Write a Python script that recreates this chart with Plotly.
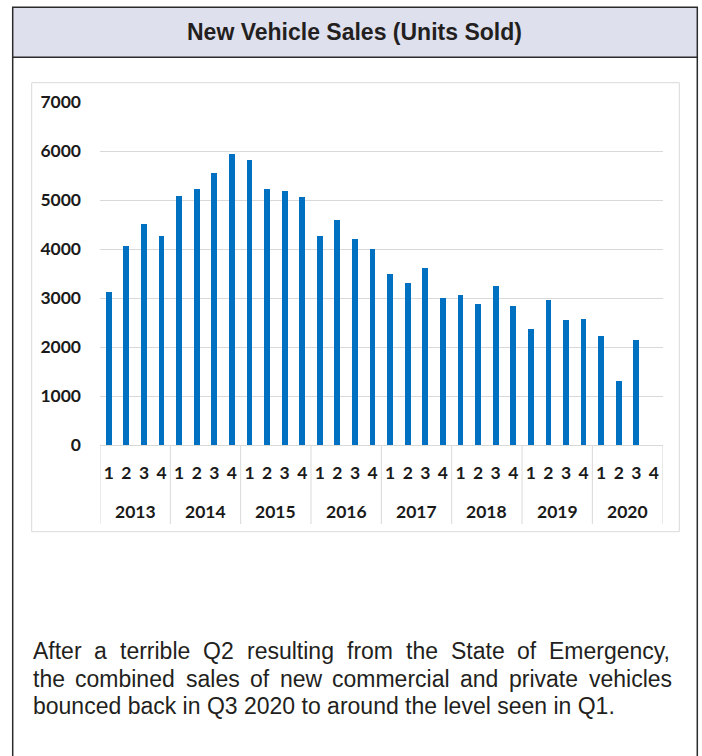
import plotly.graph_objects as go

# ---------------- data ----------------
years = ["2013", "2014", "2015", "2016", "2017", "2018", "2019", "2020"]
quarters = ["1", "2", "3", "4"]
sales = [3117, 4061, 4517, 4272,
         5090, 5213, 5540, 5935,
         5820, 5213, 5178, 5063,
         4272, 4599, 4211, 4000,
         3481, 3301, 3611, 2994,
         3055, 2877, 3239, 2843,
         2360, 2965, 2540, 2566,
         2215, 1297, 2132, None]
y_ticks = [0, 1000, 2000, 3000, 4000, 5000, 6000, 7000]
title_text = "New Vehicle Sales (Units Sold)"
body_lines = [
    "After a terrible Q2 resulting from the State of Emergency,",
    "the combined sales of new commercial and private vehicles",
    "bounced back in Q3 2020 to around the level seen in Q1.",
]

# ---------------- layout helpers ----------------
W, H = 702, 756


def px(x):
    return x / W


def py(y):
    return 1 - y / H


HELV = {' ': 278, ',': 278, '.': 278, 'A': 667, 'E': 667, 'Q': 778, 'S': 667,
        'a': 556, 'b': 556, 'c': 500, 'd': 556, 'e': 556, 'f': 278, 'g': 556,
        'h': 556, 'i': 222, 'j': 222, 'k': 500, 'l': 222, 'm': 833, 'n': 556,
        'o': 556, 'p': 556, 'q': 556, 'r': 333, 's': 500, 't': 278, 'u': 556,
        'v': 500, 'w': 722, 'x': 500, 'y': 500, 'z': 500}


def text_w(s, size):
    return sum(HELV.get(c, 556) for c in s) * size / 1000.0


cats = [f"{y}-Q{q}" for y in years for q in quarters]
qlabels = [q for y in years for q in quarters]

CHART_FONT = "Lato"
BODY_FONT = "Liberation Sans"
LBL = dict(family=CHART_FONT, size=17.5, color="#1a1a1a", weight="bold")

fig = go.Figure(go.Bar(
    x=cats, y=sales, marker_color="#0070c0", marker_line_width=0,
    width=0.33, hoverinfo="x+y", showlegend=False,
))

plot_l, plot_r, plot_t, plot_b = 100, 662.7, 102.3, 445

fig.update_layout(
    width=W, height=H,
    margin=dict(l=0, r=0, t=0, b=0),
    paper_bgcolor="white", plot_bgcolor="white",
    bargap=0,
    xaxis=dict(
        type="category", domain=[px(plot_l), px(plot_r)],
        range=[-0.5, len(cats) - 0.5],
        tickmode="array", tickvals=cats, ticktext=qlabels,
        tickfont=LBL,
        ticks="", ticklabelstandoff=12,
        showgrid=False, showline=True, linecolor="#d9d9d9", linewidth=1,
        zeroline=False, automargin=False, fixedrange=True,
    ),
    yaxis=dict(
        domain=[py(plot_b), py(plot_t)], range=[0, 7000],
        tickmode="array", tickvals=y_ticks,
        tickfont=LBL,
        ticks="", ticklabelstandoff=18,
        showgrid=True, gridcolor="#d9d9d9", gridwidth=1,
        zeroline=False, showline=False, automargin=False, fixedrange=True,
    ),
)

shapes = []
annotations = []

# outer panel lines
shapes.append(dict(type="rect", xref="paper", yref="paper",
                   x0=px(12.7), x1=px(697.3), y0=py(57.3), y1=py(7.3),
                   fillcolor="#dfe0ee", line=dict(color="#2b2b2b", width=1.5), layer="below"))
shapes.append(dict(type="line", xref="paper", yref="paper",
                   x0=px(12.7), x1=px(12.7), y0=py(57.3), y1=py(760),
                   line=dict(color="#2b2b2b", width=1.5)))
shapes.append(dict(type="line", xref="paper", yref="paper",
                   x0=px(697.3), x1=px(697.3), y0=py(57.3), y1=py(760),
                   line=dict(color="#2b2b2b", width=1.5)))
# inner chart frame
shapes.append(dict(type="rect", xref="paper", yref="paper",
                   x0=px(31.7), x1=px(679.3), y0=py(531.7), y1=py(82.7),
                   line=dict(color="#d9d9d9", width=1), layer="below"))
# year dividers
for i in range(len(years) + 1):
    shapes.append(dict(type="line", xref="x", yref="paper",
                       x0=i * 4 - 0.5, x1=i * 4 - 0.5, y0=py(445), y1=py(524),
                       line=dict(color="#d9d9d9", width=1)))
# year labels
for i, yr in enumerate(years):
    annotations.append(dict(x=i * 4 + 1.5, xref="x", y=py(511.7), yref="paper",
                            text=yr, showarrow=False, xanchor="center", yanchor="middle",
                            font=LBL))

# title
annotations.append(dict(x=px(354), y=py(32.3), xref="paper", yref="paper",
                        text=title_text, showarrow=False, xanchor="center", yanchor="middle",
                        font=dict(family=BODY_FONT, size=23, color="#231f20", weight="bold")))

# body text (first two lines justified)
BODY_SIZE = 23
left, right = 31.7, 671.0
mids = [651.0, 678.5, 706.0]
for li, line in enumerate(body_lines):
    if li < len(body_lines) - 1:
        words = line.split(" ")
        widths = [text_w(w, BODY_SIZE) for w in words]
        gap = (right - left - sum(widths)) / (len(words) - 1)
        x = left
        for w, ww in zip(words, widths):
            annotations.append(dict(x=px(x), y=py(mids[li]), xref="paper", yref="paper",
                                    text=w, showarrow=False, xanchor="left", yanchor="middle",
                                    borderpad=0,
                                    font=dict(family=BODY_FONT, size=BODY_SIZE, color="#231f20")))
            x += ww + gap
    else:
        annotations.append(dict(x=px(left), y=py(mids[li]), xref="paper", yref="paper",
                                text=line, showarrow=False, xanchor="left", yanchor="middle",
                                borderpad=0,
                                font=dict(family=BODY_FONT, size=BODY_SIZE, color="#231f20")))

fig.update_layout(shapes=shapes, annotations=annotations)
fig.write_html("out.html", config={"displayModeBar": False},
               post_script="document.body.style.margin='0';document.body.style.overflow='hidden';")
